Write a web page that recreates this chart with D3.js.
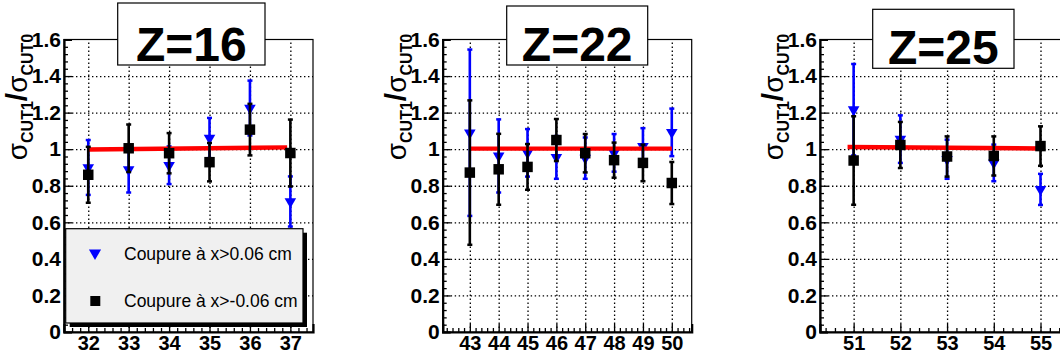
<!DOCTYPE html>
<html>
<head>
<meta charset="utf-8">
<script src="https://cdn.jsdelivr.net/npm/d3@7"></script>
<style>
  html, body { margin: 0; padding: 0; background: #fff; }
  svg { display: block; }
  text { font-family: "Liberation Sans", Arial, Helvetica, sans-serif; }
</style>
</head>
<body>
<svg id="chart" width="1060" height="355"></svg>
<script>
// ---------------- DATA ----------------
const titles = ["Z=16", "Z=22", "Z=25"];

const x1 = [32, 33, 34, 35, 36, 37];
const blue1 = [0.90, 0.888, 0.912, 1.061, 1.225, 0.714];
const blueErr1 = [0.15, 0.125, 0.103, 0.11, 0.15, 0.137];
const black1 = [0.86, 1.005, 0.978, 0.929, 1.107, 0.979];
const blackErr1 = [0.153, 0.13, 0.11, 0.105, 0.141, 0.183];
const fitX1 = [32, 36.92];
const fitY1 = [0.998, 1.01];

const x2 = [43, 44, 45, 46, 47, 48, 49, 50];
const blue2 = [1.09, 0.963, 0.98, 0.955, 0.951, 0.98, 1.015, 1.092];
const blueErr2 = [0.455, 0.2, 0.13, 0.117, 0.113, 0.103, 0.1, 0.13];
const black2 = [0.872, 0.89, 0.903, 1.05, 0.978, 0.94, 0.925, 0.815];
const blackErr2 = [0.395, 0.194, 0.125, 0.115, 0.105, 0.096, 0.1, 0.115];
const fitX2 = [43, 50];
const fitY2 = [1.003, 1.003];

const x3 = [51, 52, 53, 54, 55];
const blue3 = [1.216, 1.055, 0.945, 0.925, 0.78];
const blueErr3 = [0.25, 0.13, 0.107, 0.1, 0.085];
const black3 = [0.938, 1.023, 0.96, 0.963, 1.017];
const blackErr3 = [0.242, 0.126, 0.11, 0.107, 0.108];
const fitX3 = [50.87, 55];
const fitY3 = [1.012, 1.004];

const yTickValues = [0, 0.2, 0.4, 0.6, 0.8, 1, 1.2, 1.4, 1.6];
const yTickLabels = ["0", "0.2", "0.4", "0.6", "0.8", "1", "1.2", "1.4", "1.6"];
const legendLabels = ["Coupure \u00e0 x>0.06 cm", "Coupure \u00e0 x>-0.06 cm"];

// ---------------- LAYOUT ----------------
const svg = d3.select("#chart");
svg.append("rect").attr("width", 1060).attr("height", 355).attr("fill", "#fff");

const frameTop = 39.5, frameBottom = 332, frameW = 249;
const panels = [
  { left: 64,  domain: [31.4, 37.56], xs: x1, blue: blue1, bErr: blueErr1, black: black1, kErr: blackErr1, fx: fitX1, fy: fitY1,
    box: { x: 117.7, y: 3, w: 147.3, h: 62 } },
  { left: 442.7, domain: [42.06, 50.69], xs: x2, blue: blue2, bErr: blueErr2, black: black2, kErr: blackErr2, fx: fitX2, fy: fitY2,
    box: { x: 506.7, y: 6, w: 141, h: 59 } },
  { left: 820, domain: [50.28, 55.61], xs: x3, blue: blue3, bErr: blueErr3, black: black3, kErr: blackErr3, fx: fitX3, fy: fitY3,
    box: { x: 872.7, y: 9.3, w: 141.3, h: 59 } }
];

const y = d3.scaleLinear().domain([0, 1.6]).range([frameBottom, frameTop]);
const yMinor = d3.range(0, 1.6001, 0.04).map(v => +v.toFixed(2)).filter(v => !yTickValues.some(t => Math.abs(t - v) < 1e-6));

panels.forEach((p, i) => {
  const g = svg.append("g");
  const x = d3.scaleLinear().domain(p.domain).range([p.left, p.left + frameW]);
  const xMinor = d3.range(Math.ceil(p.domain[0] * 5) / 5, p.domain[1], 0.2)
    .map(v => +v.toFixed(2)).filter(v => Math.abs(v - Math.round(v)) > 1e-6);

  // grid
  const gy = g.append("g").attr("transform", `translate(${p.left},0)`)
    .call(d3.axisLeft(y).tickValues(yTickValues.slice(1, -1)).tickSize(-frameW).tickFormat(""));
  gy.select(".domain").remove();
  const gx = g.append("g").attr("transform", `translate(0,${frameBottom})`)
    .call(d3.axisBottom(x).tickValues(p.xs).tickSize(-(frameBottom - frameTop)).tickFormat(""));
  gx.select(".domain").remove();
  g.selectAll(".tick line").attr("stroke", "#000").attr("stroke-width", 1.3).attr("stroke-dasharray", "1.4,2.6");

  // frame top/right
  g.append("rect").attr("x", p.left).attr("y", frameTop).attr("width", frameW).attr("height", frameBottom - frameTop)
    .attr("fill", "none").attr("stroke", "#000").attr("stroke-width", 1.2);

  const cap = 2.5;
  const drawErr = (vals, errs, color, w) => {
    const eg = g.append("g");
    p.xs.forEach((xv, j) => {
      const cx = x(xv), y0 = y(vals[j] - errs[j]), y1 = y(vals[j] + errs[j]);
      eg.append("line").attr("x1", cx).attr("x2", cx).attr("y1", y0).attr("y2", y1)
        .attr("stroke", color).attr("stroke-width", w);
      [y0, y1].forEach(yy => eg.append("line").attr("x1", cx - cap).attr("x2", cx + cap).attr("y1", yy).attr("y2", yy)
        .attr("stroke", color).attr("stroke-width", 2.5));
    });
  };
  drawErr(p.blue, p.bErr, "#0000ff", 2.6);
  g.append("g").selectAll("path").data(p.xs).join("path")
    .attr("d", d3.symbol(d3.symbolTriangle, 58))
    .attr("transform", (d, j) => `translate(${x(d)},${y(p.blue[j])}) rotate(180)`)
    .attr("fill", "#0000ff");

  // fit line
  g.append("line").attr("x1", x(p.fx[0])).attr("x2", x(p.fx[1]))
    .attr("y1", y(p.fy[0])).attr("y2", y(p.fy[1]))
    .attr("stroke", "#ff0000").attr("stroke-width", 4.4);

  drawErr(p.black, p.kErr, "#000", 2.6);
  g.append("g").selectAll("path").data(p.xs).join("path")
    .attr("d", d3.symbol(d3.symbolSquare, 110))
    .attr("transform", (d, j) => `translate(${x(d)},${y(p.black[j])})`)
    .attr("fill", "#000");

  // axes
  const ay = g.append("g").attr("transform", `translate(${p.left},0)`)
    .call(d3.axisLeft(y).tickValues(yTickValues).tickSize(-8).tickPadding(3)
      .tickFormat((d, j) => yTickLabels[j]));
  ay.select(".domain").attr("stroke", "#000").attr("stroke-width", 2.2);
  ay.selectAll(".tick line").attr("stroke", "#000").attr("stroke-width", 1.3);
  ay.selectAll("text").attr("font-size", 21).attr("font-weight", "bold").attr("fill", "#000");
  const ayMin = g.append("g").attr("transform", `translate(${p.left},0)`)
    .call(d3.axisLeft(y).tickValues(yMinor).tickSize(-4).tickFormat(""));
  ayMin.select(".domain").remove();
  ayMin.selectAll(".tick line").attr("stroke", "#000").attr("stroke-width", 1.3);

  const ax = g.append("g").attr("transform", `translate(0,${frameBottom})`)
    .call(d3.axisBottom(x).tickValues(p.xs).tickSize(-8).tickPadding(4).tickFormat(d3.format("d")));
  ax.select(".domain").attr("stroke", "#000").attr("stroke-width", 2.2);
  ax.selectAll(".tick line").attr("stroke", "#000").attr("stroke-width", 1.3);
  ax.selectAll("text").attr("font-size", 20).attr("font-weight", "bold").attr("fill", "#000");
  const axMin = g.append("g").attr("transform", `translate(0,${frameBottom})`)
    .call(d3.axisBottom(x).tickValues(xMinor).tickSize(-4).tickFormat(""));
  axMin.select(".domain").remove();
  axMin.selectAll(".tick line").attr("stroke", "#000").attr("stroke-width", 1.3);

  // y-axis title
  const tx = p.left - 37, ty = 97;
  const t = g.append("text").attr("transform", `translate(${tx},${ty}) rotate(-90)`)
    .attr("text-anchor", "middle").attr("fill", "#000");
  t.append("tspan").attr("font-size", 28).text("\u03c3");
  t.append("tspan").attr("font-size", 16).attr("font-weight", "bold").attr("dy", 6).text("CUT1");
  t.append("tspan").attr("font-size", 30).attr("font-weight", "bold").attr("dy", -6).text("/");
  t.append("tspan").attr("font-size", 28).text("\u03c3");
  t.append("tspan").attr("font-size", 16).attr("font-weight", "bold").attr("dy", 6).text("CUT0");

  // title box
  g.append("rect").attr("x", p.box.x).attr("y", p.box.y).attr("width", p.box.w).attr("height", p.box.h)
    .attr("fill", "#fff").attr("stroke", "#000").attr("stroke-width", 1.2);
  g.append("text").attr("x", p.box.x + p.box.w / 2).attr("y", p.box.y + p.box.h - 4)
    .attr("text-anchor", "middle").attr("font-size", 48).attr("font-weight", "bold").attr("fill", "#000")
    .text(titles[i]);
});

// ---------------- LEGEND (panel 1) ----------------
const lg = svg.append("g");
const L = { x: 65.7, y: 228.7, w: 237.3, h: 94.3 };
lg.append("rect").attr("x", L.x + 4).attr("y", L.y + 4).attr("width", L.w).attr("height", L.h).attr("fill", "#000");
lg.append("rect").attr("x", L.x).attr("y", L.y).attr("width", L.w).attr("height", L.h)
  .attr("fill", "#f0f0f0").attr("stroke", "#000").attr("stroke-width", 1.2);
lg.append("path").attr("d", d3.symbol(d3.symbolTriangle, 64))
  .attr("transform", `translate(95,253) rotate(180)`).attr("fill", "#0000ff");
lg.append("path").attr("d", d3.symbol(d3.symbolSquare, 100))
  .attr("transform", `translate(95.3,301)`).attr("fill", "#000");
lg.selectAll("text.leg").data(legendLabels).join("text").attr("class", "leg")
  .attr("x", 124).attr("y", (d, i) => [260, 307][i])
  .attr("font-size", 17.5).attr("fill", "#000").text(d => d);
</script>
</body>
</html>
